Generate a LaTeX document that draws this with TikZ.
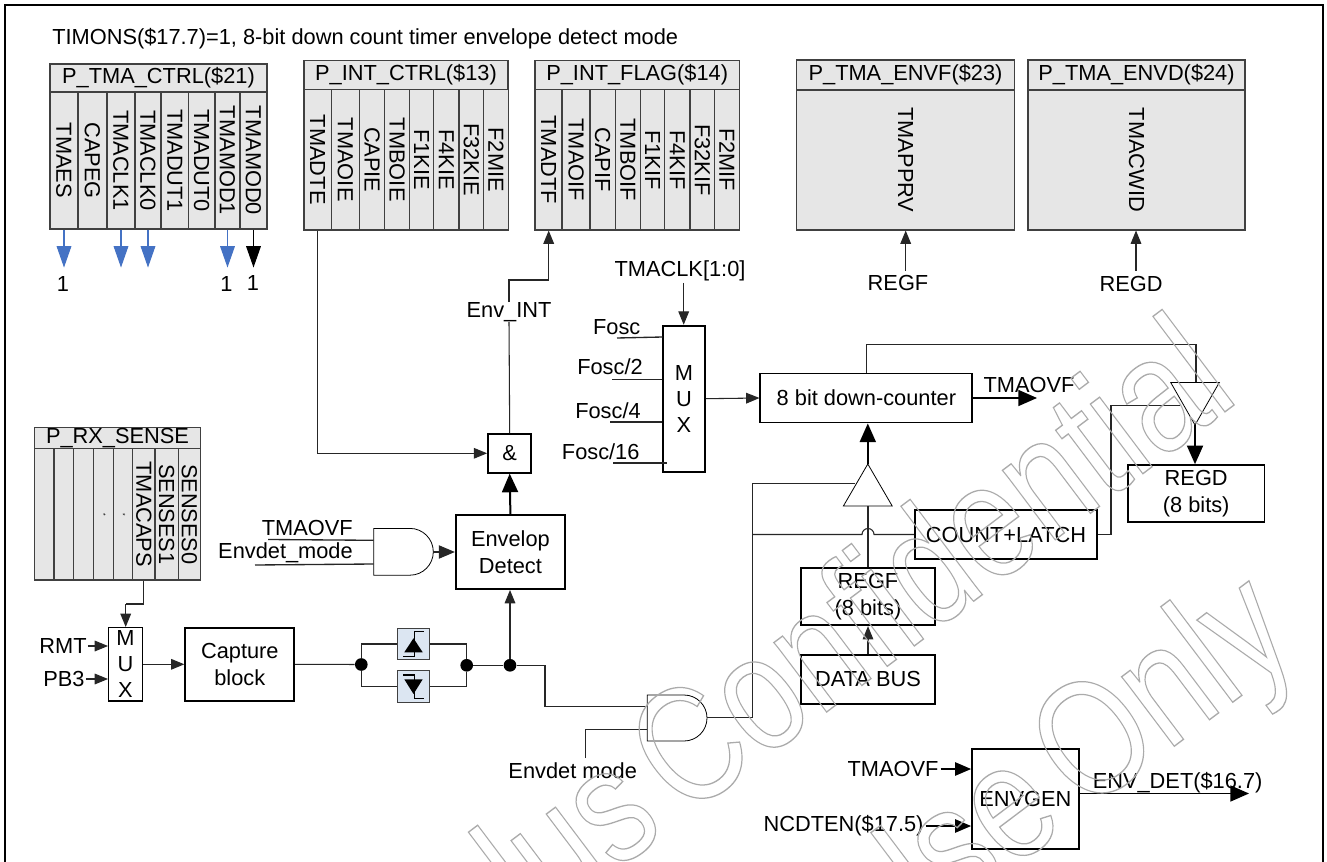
\documentclass[tikz,border=0pt]{standalone}
\usepackage{fontspec}
\setmainfont{Liberation Sans}
\usetikzlibrary{arrows.meta,calc}
\definecolor{celda}{HTML}{E6E6E6}
\definecolor{borde}{HTML}{404040}
\definecolor{azulflecha}{HTML}{4472C4}
\definecolor{azuldiodo}{HTML}{DCE6F2}
\definecolor{marca}{HTML}{ABABAB}
\definecolor{hilo}{HTML}{262626}

\begin{document}
\begin{tikzpicture}[x=0.75pt, y=-0.75pt, line join=miter,
    font=\fontsize{16.35}{20}\selectfont,
    flecha/.style={hilo, line width=0.8pt, -{Triangle[length=12pt,width=10pt]}},
    flechita/.style={hilo, line width=0.8pt, -{Triangle[length=10pt,width=8pt]}},
    flechona/.style={black, line width=1.5pt, -{Triangle[length=14pt,width=12pt]}},
    flechaazul/.style={azulflecha, line width=0.8pt, -{Triangle[length=16pt,width=11pt]}},
    cable/.style={hilo, line width=0.8pt},
    caja/.style={draw=black, line width=1.4pt, inner sep=0pt, align=center},
    tam/.style 2 args={minimum width=(#1)*0.75pt, minimum height=(#2)*0.75pt},
    cabecera/.style={draw=borde, fill=celda, line width=0.8pt, inner sep=0pt},
    regcell/.style={draw=borde, fill=celda, line width=0.8pt, inner sep=0pt, rotate=-90},
    celdatam/.style 2 args={minimum width=(#2)*0.75pt, minimum height=(#1)*0.75pt},
    etiqueta/.style={inner sep=0pt},
    punto/.style={circle, fill=black, inner sep=0pt, minimum size=9.5pt},
    diodo/.style={draw=borde, fill=azuldiodo, line width=0.8pt, inner sep=0pt},
    puerta/.style={draw=black, line width=0.6pt},
    tercio/.style={draw=black, line width=0.6pt},
    letramux/.style={font=\fontsize{16.35}{19.5}\selectfont},
    marcaagua/.style={inner sep=0pt, text=marca, anchor=base east, rotate=37, xscale=0.8, font=\fontsize{123.75}{124}\selectfont},
  ]
  \useasboundingbox (0,0) rectangle (1327,862);
  \clip (0,0) rectangle (1327,862);
  \fill[white] (0,0) rectangle (1327,862);
  \draw[black, line width=2pt] (5,5) rectangle (1323,900);
  \node[etiqueta, anchor=west] (titulo) at (52,39) {TIMONS(\$17.7)=1, 8-bit down count timer envelope detect mode};

  % P_TMA_CTRL
  \node[cabecera, tam={217}{28}] (tmactrl) at (158.5,78) {P\_TMA\_CTRL(\$21)};
  \foreach \xa/\xb/\lab in {50/78/TMAES,78/107/CAPEG,107/135/TMACLK1,135/161/TMACLK0,161/188.5/TMADUT1,188.5/215/TMADUT0,215/240/TMAMOD1,240/267/TMAMOD0}
    \node[regcell, celdatam={\xb-\xa}{137}, name=\lab] at ({(\xa+\xb)/2},160.5) {\lab};
  \foreach \lab in {TMAES,TMACLK1,TMACLK0,TMAMOD1} {
    \coordinate (\lab tip) at ($(\lab.east)+(0,38)$);
    \draw[flechaazul] (\lab.east) -- (\lab tip);
  }
  \coordinate (TMAMOD0tip) at ($(TMAMOD0.east)+(0,38)$);
  \draw[flechaazul, black] (TMAMOD0.east) -- (TMAMOD0tip);
  \node[etiqueta] (unoA) at (63,284) {1};
  \node[etiqueta] (unoB) at (226.5,284) {1};
  \node[etiqueta] (unoC) at (253,283) {1};

  % P_INT_CTRL
  \node[cabecera, tam={204}{29.5}] (intctrl) at (406,75) {P\_INT\_CTRL(\$13)};
  \foreach \xa/\xb/\lab in {304/331.3/TMADTE,331.3/359.3/TMAOIE,359.3/384.7/CAPIE,384.7/409.3/TMBOIE,409.3/433.7/F1KIE,433.7/459/F4KIE,459/483.7/F32KIE,483.7/508.3/F2MIE}
    \node[regcell, celdatam={\xb-\xa}{140.5}, name=\lab] at ({(\xa+\xb)/2},159.75) {\lab};

  % P_INT_FLAG
  \node[cabecera, tam={204.3}{29.5}] (intflag) at (637.15,75) {P\_INT\_FLAG(\$14)};
  \foreach \xa/\xb/\lab in {535/562/TMADTF,562/590/TMAOIF,590/615.3/CAPIF,615.3/640.3/TMBOIF,640.3/664.7/F1KIF,664.7/690/F4KIF,690/714.7/F32KIF,714.7/739.3/F2MIF}
    \node[regcell, celdatam={\xb-\xa}{140.5}, name=\lab] at ({(\xa+\xb)/2},159.75) {\lab};

  % P_TMA_ENVF, P_TMA_ENVD
  \node[cabecera, tam={217.6}{30}] (envf) at (905.5,75) {P\_TMA\_ENVF(\$23)};
  \node[regcell, celdatam={217.6}{140}, name=TMAPPRV] at (905.5,160) {TMAPPRV};
  \node[cabecera, tam={217}{30}] (envd) at (1136.5,75) {P\_TMA\_ENVD(\$24)};
  \node[regcell, celdatam={217}{140}, name=TMACWID] at (1136.5,160) {TMACWID};
  \node[etiqueta] (regfin) at (898,283) {REGF};
  \node[etiqueta] (regdin) at (1131,284) {REGD};
  \coordinate (regfpie) at (905.7,271);
  \coordinate (regdpie) at (1136,271);
  \draw[flechita] (regfpie) -- (regfpie |- TMAPPRV.east);
  \draw[flechita] (regdpie) -- (regdpie |- TMACWID.east);

  % P_RX_SENSE
  \node[cabecera, tam={166.4}{21.4}] (rxsense) at (117.5,438) {P\_RX\_SENSE};
  \foreach \xa/\xb/\lab [count=\n] in {34.3/54/{},54/73.3/{},73.3/93.3/{},93.3/113.3/{\tiny *},113.3/132.7/{\tiny *},132.7/155/TMACAPS,155/178.3/SENSES1,178.3/200.7/SENSES0}
    \node[regcell, celdatam={\xb-\xa}{131.3}, name=rx\n] at ({(\xa+\xb)/2},514.35) {\lab};

  % Captura
  \node[caja, tam={33.6}{73.3}, line width=1pt, letramux] (muxcap) at (125.5,664.3) {M\\U\\X};
  \node[caja, tam={109}{73.3}] (capture) at (239.8,664.3) {Capture\\block};
  \node[etiqueta] (rmt) at (63,646) {RMT};
  \node[etiqueta] (pb3) at (64,679) {PB3};
  \coordinate (capin) at (125.7,604);
  \draw[flechita] (rmt.east) ++(1,0) -- (muxcap.west |- rmt);
  \draw[flechita] (pb3.east) ++(1,0) -- (muxcap.west |- pb3);
  \draw[flechita] (muxcap.east) -- (capture.west);
  \draw[cable] (rx6.east) |- (capin);
  \draw[flechita] (capin) -- (muxcap.north -| capin);

  % Diodos
  \node[punto] (nudoA) at (361.3,664.5) {};
  \node[punto] (nudoB) at (466.7,665.3) {};
  \node[punto] (nudoC) at (510,665.3) {};
  \node[diodo, tam={31.6}{30.6}] (diodoA) at (413.5,644) {};
  \node[diodo, tam={31.6}{31.3}] (diodoB) at (413.5,686.6) {};
  \fill[black] (404.3,652.3) -- (422.7,652.3) -- (413.5,638.3) -- cycle;
  \draw[black, line width=0.8pt] (403,656.7) -- (414.3,656.7) -- (414.3,631.7) -- (424,631.7);
  \fill[black] (404.3,679.3) -- (422.7,679.3) -- (413.5,694) -- cycle;
  \draw[black, line width=0.8pt] (403,675) -- (414.3,675) -- (414.3,698.7) -- (424,698.7);
  \draw[cable] (capture.east) -- (nudoA);
  \draw[cable] (nudoA) |- (diodoA.west);
  \draw[cable] (nudoA) |- (diodoB.west);
  \draw[cable] (diodoA.east) -| (nudoB);
  \draw[cable] (diodoB.east) -| (nudoB);
  \draw[cable] (nudoB) -- (nudoC);

  % Envelop Detect
  \node[caja, tam={109.3}{73.7}] (envelop) at (510.4,552.2) {Envelop\\Detect};
  \node[caja, tam={43.3}{38.7}] (anda) at (509.7,453.3) {\&};
  \node[etiqueta] (envint) at (509,312) {Env\_INT};
  \draw[flechona] (envelop.north) -- (anda.south);
  \draw[flechita] (nudoC) -- (nudoC |- envelop.south);
  \draw[cable] (anda.north) -- (envint.south);
  \coordinate (flagcodo) at (548.7,280);
  \draw[cable] (envint.north) |- (flagcodo);
  \draw[flechita] (flagcodo) -- (flagcodo |- TMADTF.east);
  \draw[flechita] (TMADTE.east) |- (anda.west);

  % Puerta superior
  \coordinate (gateA) at (373.7,528.4);
  \draw[puerta] (gateA) -- ++(36.2,0) arc[start angle=-90, end angle=90, radius=23.4] -- ++(-36.2,0) -- cycle;
  \coordinate (gateAout) at (433.3,552);
  \coordinate (gateAin1) at (373.7,540.3);
  \coordinate (gateAin2) at (373.7,564);
  \node[etiqueta, anchor=east] (ovfA) at (353,528) {TMAOVF};
  \node[etiqueta, anchor=east] (modeA) at (353,552.7) {Envdet\_mode};
  \coordinate (ovfApie) at (268,539.5);
  \coordinate (modeApie) at (255,565);
  \draw[cable, line width=1pt] (ovfApie) -- (gateAin1);
  \draw[cable, line width=1pt] (modeApie) -- (gateAin2);
  \draw[flecha] (gateAout) -- (gateAout -| envelop.west);

  % Reloj
  \node[caja, tam={42.3}{146}, letramux] (muxclk) at (683.9,398.7) {M\\U\\X};
  \node[etiqueta] (tmaclk) at (680,271) {TMACLK[1:0]};
  \coordinate (clkpie) at (683.7,283);
  \draw[flechita] (clkpie) -- (clkpie |- muxclk.north);
  \node[etiqueta] (foscA) at (616.7,327) {Fosc};
  \node[etiqueta] (foscB) at (610,367) {Fosc/2};
  \node[etiqueta] (foscC) at (608,411) {Fosc/4};
  \node[etiqueta] (foscD) at (600.7,452) {Fosc/16};
  \coordinate (foscApie) at (617,338);
  \coordinate (foscBpie) at (612,379.3);
  \coordinate (foscCpie) at (610,422);
  \coordinate (foscDpie) at (613,463);
  \draw[cable, line width=1pt] (foscApie) -- (662.7,337);
  \draw[cable, line width=1pt] (foscBpie) -- (foscBpie -| muxclk.west);
  \draw[cable, line width=1pt] (foscCpie) -- (foscCpie -| muxclk.west);
  \draw[cable, line width=1pt] (foscDpie) -- (667,463);

  % Contador
  \node[caja, tam={212}{49}] (contador) at (866.4,398) {8 bit down-counter};
  \draw[flechita] (muxclk.east) -- (contador.west);
  \node[etiqueta] (ovfB) at (1029,385) {TMAOVF};
  \coordinate (ovfBtip) at (1037,398);
  \draw[flechona, line width=1.2pt] (contador.east) -- (ovfBtip);

  % Buffers
  \coordinate (bufA) at (867.8,464);
  \coordinate (bufAi) at (843.4,506);
  \coordinate (bufAd) at (892.2,506);
  \draw[tercio] (bufA) -- (bufAi) -- (bufAd) -- cycle;
  \coordinate (bufB) at (1195,425);
  \coordinate (bufBi) at (1170.7,382.5);
  \coordinate (bufBd) at (1219.3,382.5);
  \draw[tercio] (bufB) -- (bufBi) -- (bufBd) -- cycle;
  \draw[flechona] (bufA) -- (bufA |- contador.south);
  \node[caja, tam={136.5}{56.7}] (regd) at (1196.2,493.5) {REGD\\(8 bits)};
  \node[caja, tam={182.4}{49}] (countlatch) at (1006,534.5) {COUNT+LATCH};
  \node[caja, tam={134}{57}] (regf) at (868,596.7) {REGF\\(8 bits)};
  \node[caja, tam={134}{48.7}] (databus) at (868,679.3) {DATA BUS};
  \draw[flechona] (bufB) -- (bufB |- regd.north);
  \draw[flechita] (databus.north) -- (regf.south);
  \coordinate (cnttop) at (1196,344.5);
  \coordinate (bufBtop) at (1196,382.5);
  \draw[cable] (regf.north) -- (regf.north |- bufAi);
  \draw[cable] (contador.north) |- (cnttop) -- (bufBtop);
  \coordinate (lat) at (1180,405.7);
  \coordinate (latcodo) at (1111,534.5);
  \draw[cable] (countlatch.east) -- (latcodo) |- (lat);

  % Puerta inferior
  \coordinate (gateB) at (647.3,695);
  \draw[puerta] (gateB) -- ++(36.7,0) arc[start angle=-90, end angle=90, radius=23] -- ++(-36.7,0) -- cycle;
  \coordinate (gateBout) at (707,717.7);
  \coordinate (bufAizq) at (855,483.3);
  \coordinate (busV) at (752.3,717.7);
  \coordinate (busM) at (752.3,534.5);
  \draw[cable] (gateBout) -- (busV) |- (bufAizq);
  \draw[cable] (countlatch.west) -- (874,534.5) arc[start angle=0, end angle=-180, radius=6] -- (busM);
  \coordinate (gateBin1) at (647.3,706.7);
  \coordinate (gateBin2) at (647.3,729.3);
  \coordinate (gateBcodo) at (545,665.3);
  \draw[cable] (nudoC) -- (gateBcodo) |- (gateBin1);
  \node[etiqueta] (modeB) at (572.7,770.7) {Envdet mode};
  \coordinate (modeBpie) at (585.7,758);
  \draw[cable] (modeBpie) |- (gateBin2);

  % ENVGEN
  \node[caja, tam={106.7}{100.3}] (envgen) at (1025.4,799.2) {ENVGEN};
  \node[etiqueta] (ovfC) at (893,769) {TMAOVF};
  \node[etiqueta] (ncdten) at (843.5,826) {NCDTEN(\$17.5)};
  \node[etiqueta] (envdet) at (1177.6,782.3) {ENV\_DET(\$16.7)};
  \coordinate (envdettip) at (1249,793.5);
  \draw[flecha, black, line width=1pt] (ovfC.east) ++(2,0) -- (ovfC -| envgen.west);
  \draw[flecha, black, line width=1pt] (ncdten.east) ++(2,0) -- (ncdten -| envgen.west);
  \draw[flechona, line width=1.2pt] (envgen.east |- envdettip) -- (envdettip);

  % Marca de agua
  \node[marcaagua] (marcaA) at (1241.6,399.3) {\special{pdf:code 1 Tr 1 w}lus\hspace{-0.12em} Confidential};
  \node[marcaagua] (marcaB) at (1302,650) {\special{pdf:code 1 Tr 1 w}Use\hspace{-0.12em} Only};
\end{tikzpicture}
\end{document}
